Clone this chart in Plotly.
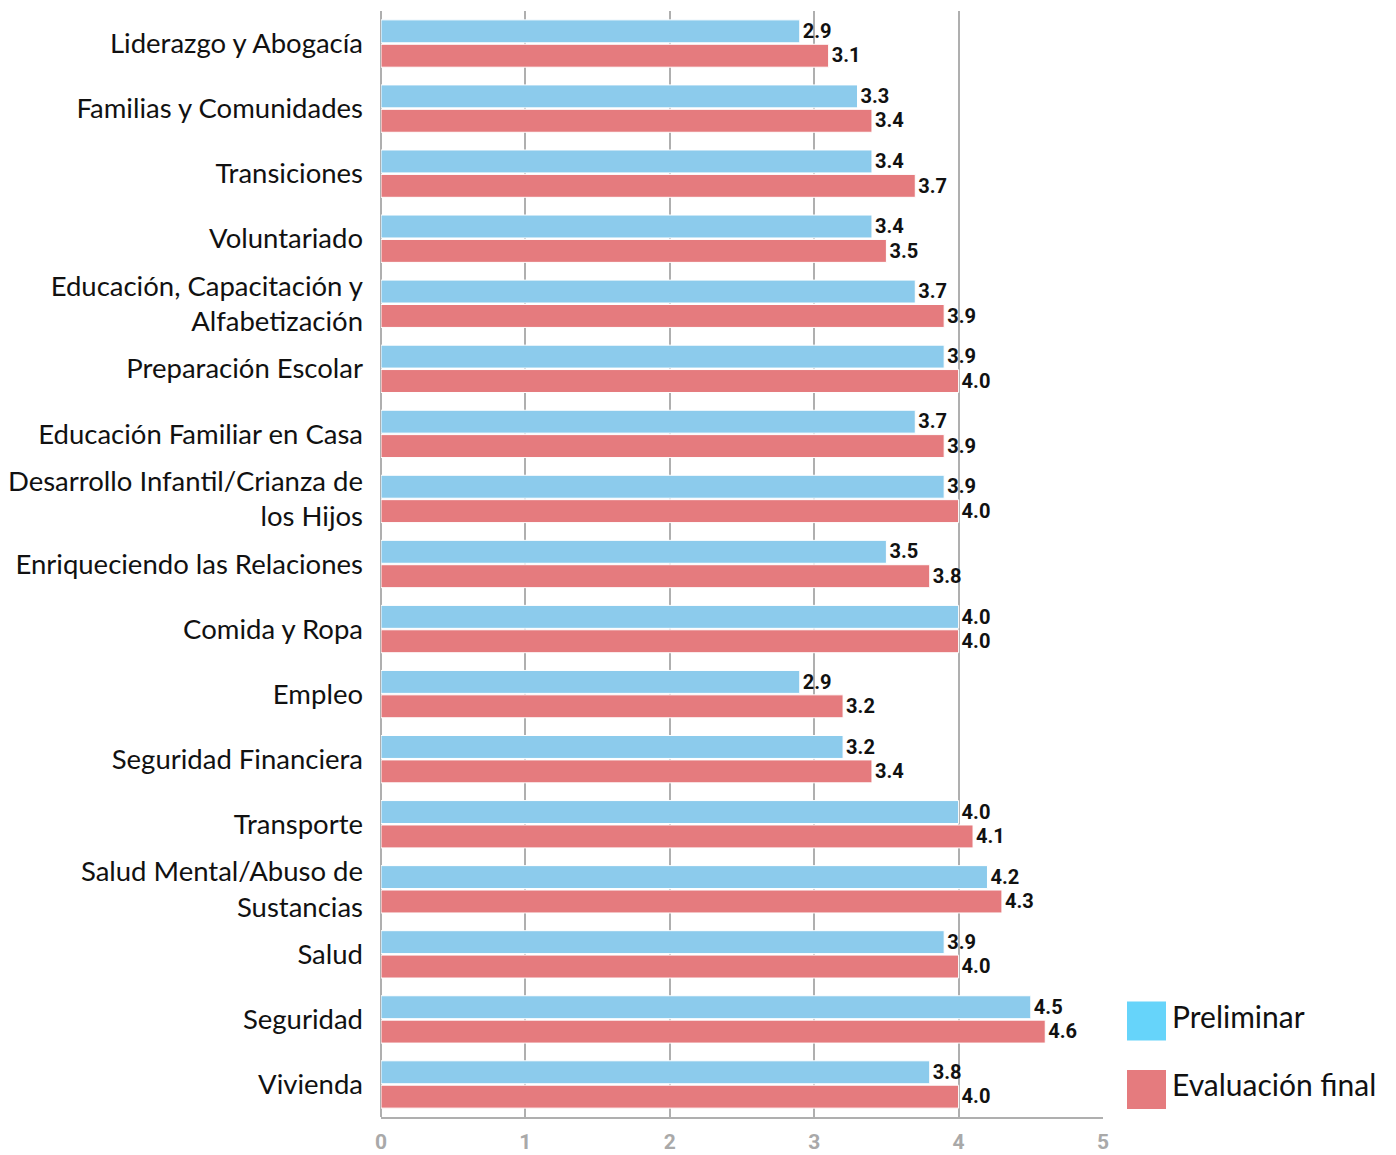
import plotly.graph_objects as go

categories = [
    "Liderazgo y Abogacía",
    "Familias y Comunidades",
    "Transiciones",
    "Voluntariado",
    "Educación, Capacitación y<br>Alfabetización",
    "Preparación Escolar",
    "Educación Familiar en Casa",
    "Desarrollo Infantil/Crianza de<br>los Hijos",
    "Enriqueciendo las Relaciones",
    "Comida y Ropa",
    "Empleo",
    "Seguridad Financiera",
    "Transporte",
    "Salud Mental/Abuso de<br>Sustancias",
    "Salud",
    "Seguridad",
    "Vivienda",
]
preliminar = [2.9, 3.3, 3.4, 3.4, 3.7, 3.9, 3.7, 3.9, 3.5, 4.0, 2.9, 3.2, 4.0, 4.2, 3.9, 4.5, 3.8]
final = [3.1, 3.4, 3.7, 3.5, 3.9, 4.0, 3.9, 4.0, 3.8, 4.0, 3.2, 3.4, 4.1, 4.3, 4.0, 4.6, 4.0]
x_ticks = [0, 1, 2, 3, 4, 5]
series_names = ["Preliminar", "Evaluación final"]

blue = "#8CCBEC"
red = "#E57B7E"
legend_blue = "#66D4FA"
narrow = "Roboto, Lato, sans-serif"
label_font = dict(family=narrow, size=21, color="#111111", weight=700)

# page offset (body margin) compensation
OFF = 8
PL, PR, PT, PB = 381, 1103, 11, 1117.5  # plot area in screen px
W, H = 1396, 1155
PW, PH = PR - PL, PB - PT

fig = go.Figure()
for name, vals, col in [(series_names[0], preliminar, blue), (series_names[1], final, red)]:
    fig.add_trace(go.Bar(
        y=categories, x=vals, orientation="h", name=name,
        marker=dict(color=col, line=dict(color="white", width=1)),
        text=[f"{v:.1f}" for v in vals], textposition="outside",
        textfont=label_font, cliponaxis=False, showlegend=False,
    ))

fig.update_layout(
    width=W, height=H,
    margin=dict(l=PL - OFF, r=W - (PR - OFF), t=PT - OFF, b=H - (PB - OFF)),
    paper_bgcolor="white", plot_bgcolor="white",
    barmode="group", bargap=0.25, bargroupgap=0.06,
    font=dict(family="Lato, Open Sans, sans-serif", color="#111111"),
)
fig.update_xaxes(
    range=[0, 5], tickvals=x_ticks, ticktext=[str(t) for t in x_ticks],
    showgrid=True, gridcolor="#AFAFAF", gridwidth=2,
    zeroline=True, zerolinecolor="#AFAFAF", zerolinewidth=2,
    showline=True, linecolor="#AFAFAF", linewidth=2,
    tickfont=dict(family=narrow, size=21, color="#A9A9A9", weight=700),
    ticks="", ticklabelstandoff=5, automargin=False,
)
fig.update_yaxes(
    autorange="reversed", showgrid=False, ticks="",
    tickfont=dict(family="Lato, Open Sans, sans-serif", size=27.5, color="#111111"),
    ticklabelstandoff=17, automargin=False,
)

# legend drawn as boxes + labels (screen px converted to paper coords)
legend_items = [(series_names[0], legend_blue, 1021.5, 1016), (series_names[1], red, 1090, 1084)]
for name, col, yc, ytext in legend_items:
    y0 = 1 - (yc + 19.5 - PT) / PH
    y1 = 1 - (yc - 19.5 - PT) / PH
    fig.add_shape(type="rect", xref="paper", yref="paper",
                  x0=(1127 - PL) / PW, x1=(1166 - PL) / PW,
                  y0=y0, y1=y1, fillcolor=col, line=dict(width=0))
    fig.add_annotation(xref="paper", yref="paper", x=(1170 - PL) / PW,
                       y=1 - (ytext - PT) / PH, text=name, showarrow=False,
                       xanchor="left", yanchor="middle",
                       font=dict(family="Lato, Open Sans, sans-serif", size=30, color="#111111"))

fig.write_html("out.html")
